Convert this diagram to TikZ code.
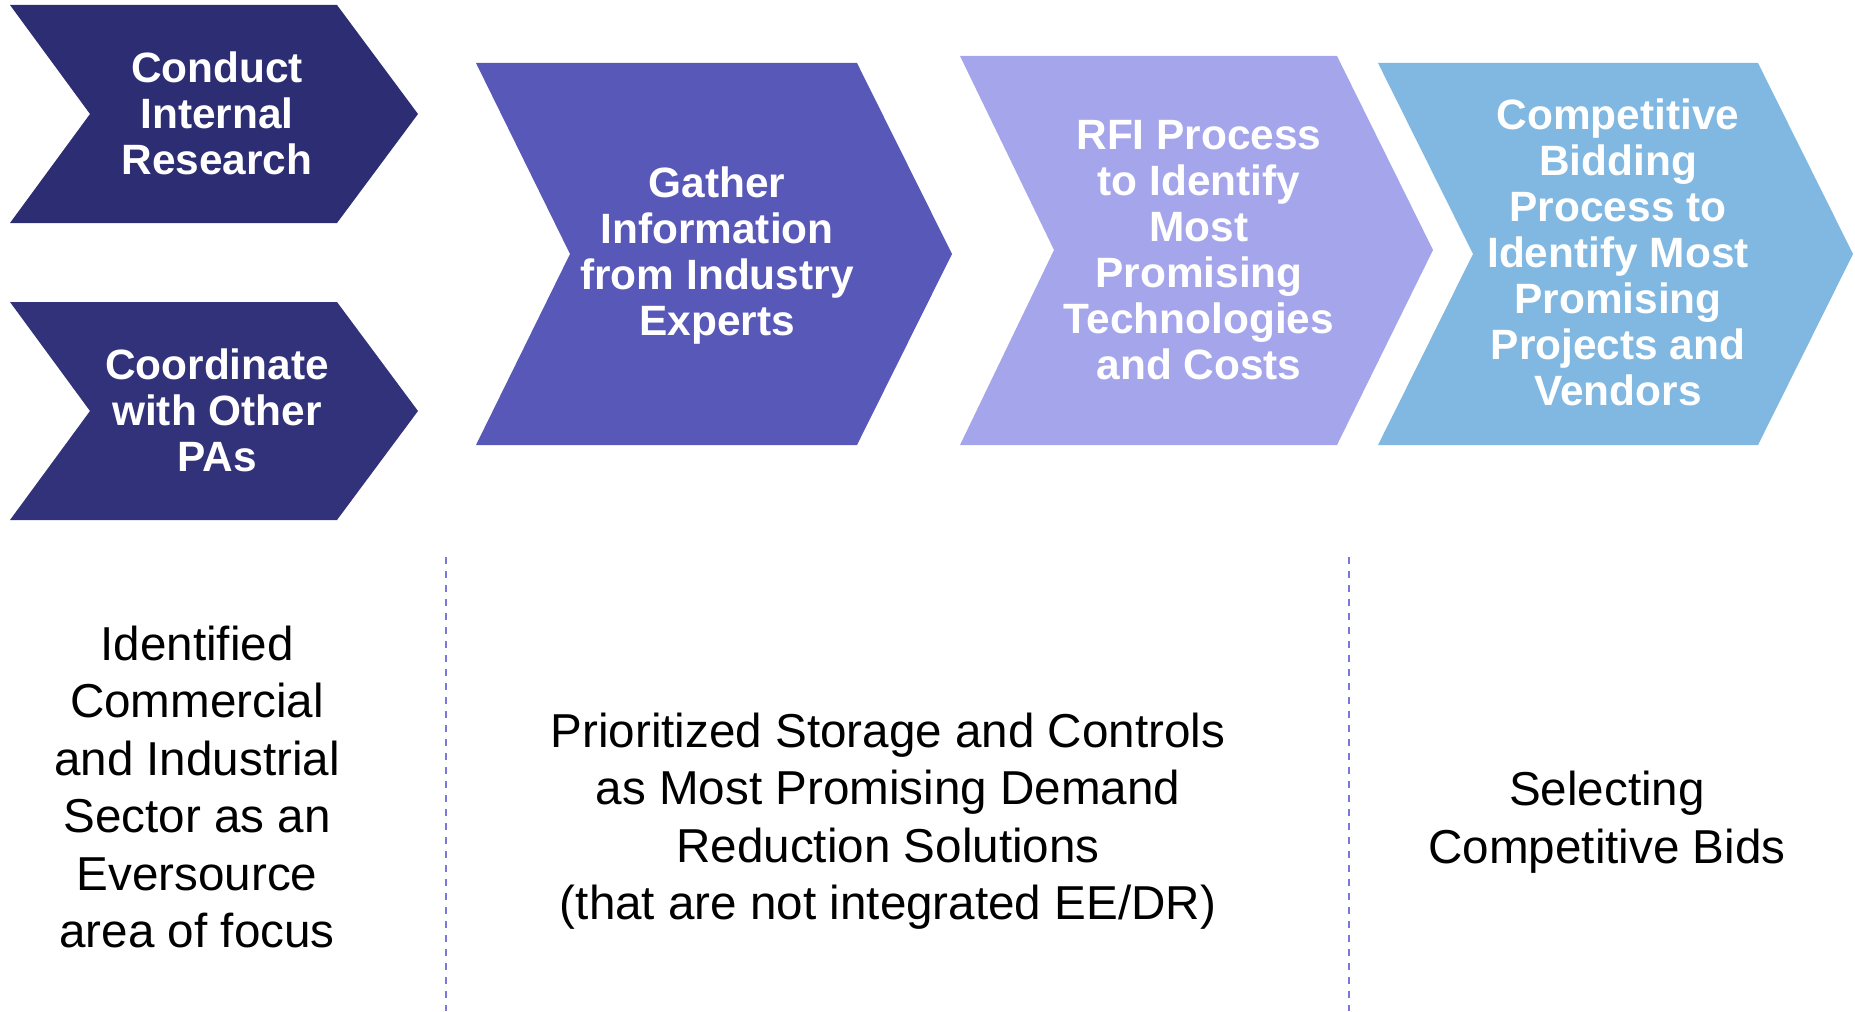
\documentclass[tikz,border=0pt]{standalone}
\usepackage{fontspec}
\setmainfont{Liberation Sans}
\definecolor{cnavy}{RGB}{45,45,115}
\definecolor{cnavyb}{RGB}{50,50,122}
\definecolor{cmid}{RGB}{88,88,184}
\definecolor{clav}{RGB}{165,165,236}
\definecolor{csky}{RGB}{128,184,226}
\definecolor{cdash}{RGB}{120,120,220}
\tikzset{
  chevtext/.style={text=white, font=\bfseries\fontsize{21.2pt}{23pt}\selectfont, align=center, inner sep=0pt},
  bodytext/.style={text=black, font=\fontsize{23.8pt}{28.7pt}\selectfont, align=center, inner sep=0pt},
  sepline/.style={draw=cdash, line width=1pt, dash pattern=on 3.5pt off 3.5pt}
}
\begin{document}
\begin{tikzpicture}[x=0.5pt,y=-0.5pt]
\useasboundingbox (0,0) rectangle (1855,1011);
% chevrons
\fill[cnavy] (10,5) -- (337,5) -- (418,114) -- (337,223) -- (10,223) -- (90,114) -- cycle;
\fill[cnavyb] (10,302) -- (337,302) -- (418,411) -- (337,520) -- (10,520) -- (90,411) -- cycle;
\fill[cmid] (476,63) -- (857,63) -- (952,254) -- (857,445) -- (476,445) -- (570,254) -- cycle;
\fill[clav] (960,56) -- (1337,56) -- (1433,250) -- (1337,445) -- (960,445) -- (1054,250) -- cycle;
\fill[csky] (1378,63) -- (1758,63) -- (1853,254) -- (1758,445) -- (1378,445) -- (1473,254) -- cycle;
% chevron texts
\node[chevtext] (conduct) at (217,113) {Conduct\\Internal\\Research};
\node[chevtext] (coord) at (217,410) {Coordinate\\with Other\\PAs};
\node[chevtext] (gather) at (717,256) {Gather\\Information\\from Industry\\Experts};
\node[chevtext] (rfi) at (1199,250) {RFI Process\\to Identify\\Most\\Promising\\Technologies\\and Costs};
\node[chevtext] (bid) at (1618,252) {Competitive\\Bidding\\Process to\\Identify Most\\Promising\\Projects and\\Vendors};
% separators
\coordinate (s1a) at (446,557);
\coordinate (s1b) at (446,1011);
\coordinate (s2a) at (1349,557);
\coordinate (s2b) at (1349,1011);
\draw[sepline] (s1a) -- (s1b);
\draw[sepline] (s2a) -- (s2b);
% bottom texts
\node[bodytext] (res1) at (197,787) {Identified\\Commercial\\and Industrial\\Sector as an\\Eversource\\area of focus};
\node[bodytext] (res2) at (888,821) {Prioritized Storage and Controls\\as Most Promising Demand\\Reduction Solutions\\(that are not integrated EE/DR)};
\node[bodytext] (res3) at (1607,822) {Selecting\\Competitive Bids};
\end{tikzpicture}
\end{document}
